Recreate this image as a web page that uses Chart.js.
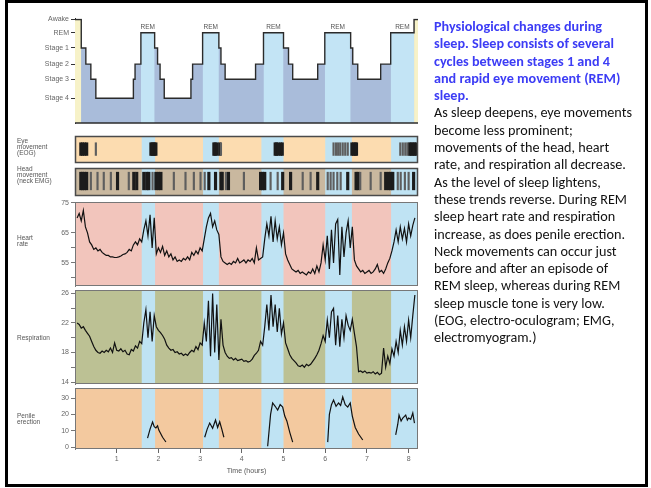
<!DOCTYPE html>
<html>
<head>
<meta charset="utf-8">
<script src="https://cdn.jsdelivr.net/npm/chart.js@4.4.1/dist/chart.umd.min.js"></script>
<style>
body { margin: 0; background: #fff; width: 651px; height: 488px; overflow: hidden; position: relative; font-family: "Liberation Sans", Arial, sans-serif; }
canvas { position: absolute; left: 0; top: 0; }
.frame { position: absolute; left: 5px; top: 0; width: 637px; height: 481px; border: 3px solid #000; }
.lab { position: absolute; left: 17px; font-size: 6.5px; line-height: 6px; color: #555; white-space: nowrap; }
#caption { position: absolute; left: 434px; top: 18px; font-family: Carlito, Lato, sans-serif; font-size: 14.2px; line-height: 17.3px; white-space: nowrap; color: #111; }
#caption .t { color: #3c3cf5; font-weight: bold; }
</style>
</head>
<body>
<div class="frame"></div>
<canvas id="c1" width="651" height="488"></canvas>
<canvas id="c2" width="651" height="488"></canvas>
<canvas id="c3" width="651" height="488"></canvas>
<canvas id="c4" width="651" height="488"></canvas>
<canvas id="c5" width="651" height="488"></canvas>
<canvas id="c6" width="651" height="488"></canvas>

<div class="lab" style="top:138px">Eye<br>movement<br>(EOG)</div>
<div class="lab" style="top:166px">Head<br>movement<br>(neck EMG)</div>
<div class="lab" style="top:235px">Heart<br>rate</div>
<div class="lab" style="top:335px">Respiration</div>
<div class="lab" style="top:413px">Penile<br>erection</div>

<div id="caption">
<div class="t">Physiological changes during<br>sleep. Sleep consists of several<br>cycles between stages 1 and 4<br>and rapid eye movement (REM)<br>sleep.</div>
<div>As sleep deepens, eye movements<br>become less prominent;<br>movements of the head, heart<br>rate, and respiration all decrease.<br>As the level of sleep lightens,<br>these trends reverse. During REM<br>sleep heart rate and respiration<br>increase, as does penile erection.<br>Neck movements can occur just<br>before and after an episode of<br>REM sleep, whereas during REM<br>sleep muscle tone is very low.<br>(EOG, electro-oculogram; EMG,<br>electromyogram.)</div>
</div>

<script>
// ---- data ----
var xMax = 8.225;
var xTicks = [1, 2, 3, 4, 5, 6, 7, 8];

var stageNames = ['Awake', 'REM', 'Stage 1', 'Stage 2', 'Stage 3', 'Stage 4'];
var stageLevels = [5.45, 4.75, 3.95, 3.1, 2.3, 1.3];

// each stage lasts from its time to the next time
var hypnoTimes = [0, 0.15, 0.26, 0.38, 0.5, 1.4, 1.44, 1.58, 1.91, 1.98, 2.04, 2.14, 2.78, 2.82, 3.06, 3.45, 3.5, 3.6,
    4.33, 4.52, 5.0, 5.12, 5.22, 5.82, 5.99, 6.61, 6.66, 6.78, 7.33, 7.57, 8.13, 8.225];
var hypnoStages = ['Awake', 'Stage 1', 'Stage 2', 'Stage 3', 'Stage 4', 'Stage 3', 'Stage 2', 'REM', 'Stage 1', 'Stage 2',
    'Stage 3', 'Stage 4', 'Stage 3', 'Stage 2', 'REM', 'Stage 1', 'Stage 2', 'Stage 3', 'Stage 2', 'REM', 'Stage 1',
    'Stage 2', 'Stage 3', 'Stage 2', 'REM', 'Stage 1', 'Stage 2', 'Stage 3', 'Stage 2', 'REM', 'Awake', 'Awake'];

// REM periods shaded in the lower panels (hours)
var remStart = [1.6, 3.07, 4.47, 6.0, 7.58];
var remEnd = [1.92, 3.45, 5.0, 6.64, 8.225];

// eye movements (EOG) and neck EMG bursts, hours
var eogStrong = [0.14, 0.18, 0.23, 0.28, 1.82, 1.85, 1.88, 1.91, 1.94, 3.33, 3.36, 3.40, 3.47, 4.80, 4.83, 4.87, 4.93, 4.97,
    6.64, 6.68, 6.72, 6.75, 8.02, 8.06, 8.10, 8.14, 8.18];
var eogFaint = [0.50, 3.50, 6.20, 6.26, 6.31, 6.36, 6.42, 6.48, 6.54, 7.80, 7.86, 7.92, 7.97];
var emgStrong = [0.14, 0.18, 0.23, 0.28, 1.02, 1.41, 1.48, 1.65, 1.72, 1.77, 1.94, 2.00, 2.06, 3.21, 3.37, 3.50, 3.53, 3.68,
    4.45, 4.50, 4.55, 4.98, 5.17, 5.82, 6.54, 6.74, 6.79, 7.45, 7.52, 7.57, 7.62, 8.12];
var emgFaint = [0.38, 0.54, 0.69, 0.86, 1.29, 1.86, 2.37, 2.65, 2.85, 3.01, 3.11, 3.62, 4.05, 4.69, 4.86, 5.46, 5.65, 6.06,
    6.13, 6.20, 6.29, 6.37, 6.84, 7.09, 7.33, 7.74, 7.81, 7.91, 8.00];

var sampleTimes = [
    0.05, 0.10, 0.15, 0.20, 0.25, 0.30, 0.35, 0.40, 0.45, 0.50, 0.55, 0.60, 0.65, 0.70, 0.75, 0.80, 0.85, 0.90, 0.95, 1.00,
    1.05, 1.10, 1.15, 1.20, 1.25, 1.30, 1.35, 1.40, 1.45, 1.50, 1.55, 1.60, 1.65, 1.70, 1.75, 1.80, 1.85, 1.90, 1.95, 2.00,
    2.05, 2.10, 2.15, 2.20, 2.25, 2.30, 2.35, 2.40, 2.45, 2.50, 2.55, 2.60, 2.65, 2.70, 2.75, 2.80, 2.85, 2.90, 2.95, 3.00,
    3.05, 3.10, 3.15, 3.20, 3.25, 3.30, 3.35, 3.40, 3.45, 3.50, 3.55, 3.60, 3.65, 3.70, 3.75, 3.80, 3.85, 3.90, 3.95, 4.00,
    4.05, 4.10, 4.15, 4.20, 4.25, 4.30, 4.35, 4.40, 4.45, 4.50, 4.55, 4.60, 4.65, 4.70, 4.75, 4.80, 4.85, 4.90, 4.95, 5.00,
    5.05, 5.10, 5.15, 5.20, 5.25, 5.30, 5.35, 5.40, 5.45, 5.50, 5.55, 5.60, 5.65, 5.70, 5.75, 5.80, 5.85, 5.90, 5.95, 6.00,
    6.05, 6.10, 6.15, 6.20, 6.25, 6.30, 6.35, 6.40, 6.45, 6.50, 6.55, 6.60, 6.65, 6.70, 6.75, 6.80, 6.85, 6.90, 6.95, 7.00,
    7.05, 7.10, 7.15, 7.20, 7.25, 7.30, 7.35, 7.40, 7.45, 7.50, 7.55, 7.60, 7.65, 7.70, 7.75, 7.80, 7.85, 7.90, 7.95, 8.00,
    8.05, 8.10, 8.15];

var heartRate = [
    70, 71.5, 69, 72.5, 67, 65, 62, 61, 59.5, 60, 59, 59.5, 58.5, 58, 57.5, 57.5, 57, 57, 56.8, 56.8,
    57, 57.3, 57.8, 58, 58.5, 59.5, 59, 61, 62, 61, 63, 62, 66, 69, 64, 71, 60, 70, 58, 60,
    58.5, 60.5, 57.5, 59, 57, 58, 56, 57, 55.5, 56, 55.5, 56.5, 56, 57, 56, 58.5, 57.5, 59, 58, 60,
    59, 63, 67, 70, 71.5, 67, 69, 66, 64.5, 57, 55.5, 55, 54.5, 55, 54.5, 55.5, 55, 56.5, 55, 55.5,
    56, 55, 56, 55.5, 56.5, 55, 60, 56, 56.5, 57, 63, 68, 64, 70.5, 62, 69, 63, 67, 61, 65,
    58, 56, 54.5, 53, 52.5, 52, 52.5, 51.5, 52, 51.5, 51, 52, 51.5, 53, 51.5, 54, 52, 55, 61, 56,
    64, 53, 66, 55, 68, 69.5, 51, 67, 57, 65, 69, 60, 67, 56, 54, 53, 52, 52.5, 51.5, 52,
    52.5, 51.5, 52, 53, 54.5, 52, 52.5, 51.5, 53, 55, 56.5, 59, 62, 66, 62, 67, 63, 66.5, 62, 68,
    64, 67.5, 70];
var hrTicks = [50, 55, 60, 65, 75];
var hrLabels = [55, 65, 75];

var respiration = [
    22, 21.8, 21.3, 21.5, 21, 20.6, 20.2, 19.5, 18.8, 18.3, 18, 17.9, 18.2, 18, 18.3, 18.1, 18.6, 18, 19.3, 18.3,
    18.2, 18.5, 18.1, 18.3, 17.8, 17.7, 18.4, 18.2, 18.9, 18.6, 19.5, 19.2, 22, 23.8, 20, 23.5, 19.5, 23, 21.5, 21,
    20.7, 20.3, 19.8, 19, 18.6, 18.3, 18.4, 18, 18.1, 17.8, 17.9, 17.6, 17.8, 17.6, 18, 18.3, 18.1, 18.8, 18.4, 19.3,
    19, 22, 19.5, 25, 17.5, 26, 18, 24.5, 17, 22.5, 19, 18, 17.5, 17.2, 17.3, 17, 17.2, 16.9, 17, 17.1,
    16.8, 16.9, 16.7, 16.8, 17.1, 17.6, 17.9, 18.3, 19.5, 19, 21.5, 24.5, 21, 25.8, 21.5, 24.5, 20.8, 24, 20.5, 22,
    19.3, 18.5, 17.7, 17.2, 16.9, 16.6, 16.2, 16.1, 16.3, 16, 16.4, 16.2, 16.4, 16.8, 17.2, 17.7, 18.3, 19.2, 20.3, 19.5,
    22.4, 20, 23.5, 24, 19, 23, 18.8, 22.5, 20, 23, 21.7, 21, 22.5, 20.6, 18.8, 15.4, 15.5, 15.3, 15.5, 15.2,
    15.3, 15.2, 15.4, 15.1, 15.3, 15, 15.2, 18.6, 16, 17.5, 16.5, 18.5, 17.5, 19.5, 18, 21, 19, 21.5, 19.5, 22.4,
    20, 23, 25.8];
var respTicks = [14, 16, 18, 20, 22, 24, 26];
var respLabels = [14, 18, 22, 26];

// null values break the trace between REM episodes
var penileTimes = [1.74, 1.80, 1.86, 1.90, 1.94, 1.98, 2.01, 2.10, 2.18, 2.6,
    3.11, 3.17, 3.23, 3.30, 3.37, 3.42, 3.47, 3.52, 3.57, 4.1,
    4.62, 4.69, 4.74, 4.80, 4.86, 4.92, 4.98, 5.03, 5.08, 5.15, 5.22, 5.6,
    6.06, 6.10, 6.15, 6.20, 6.26, 6.32, 6.37, 6.42, 6.48, 6.54, 6.60, 6.65, 6.72, 6.80, 6.90, 7.3,
    7.69, 7.74, 7.77, 7.82, 7.86, 7.93, 7.97, 8.00, 8.05, 8.10, 8.14];
var penileValues = [5.5, 11, 15.3, 12.5, 11.7, 13, 10.4, 6, 3.1, null,
    6, 11, 14.7, 11.5, 16.6, 12, 15.5, 11, 6, null,
    0.5, 20, 27, 25, 22.7, 26, 24.5, 19, 16, 9, 3, null,
    3, 20, 26, 28.8, 25, 27, 25.5, 30.7, 26, 24.5, 27, 19, 12, 8, 4.3, null,
    7.4, 14, 19.6, 16, 17.8, 19.6, 16.5, 17.8, 17, 20.9, 14.7];
var penileTicks = [0, 10, 20, 30];

// ---- helpers ----
var W = 651, H = 488, plotLeft = 75, plotRight = 418;
var tickFont = { family: 'Liberation Sans', size: 7 };
var remBlue = '#bfe3f3';

function levelOf(name) { return stageLevels[stageNames.indexOf(name)]; }
function pts(xs, ys) { return xs.map(function (t, i) { return { x: t, y: ys[i] }; }); }
function stageFill(stage) {
    var out = [];
    for (var i = 0; i < hypnoTimes.length - 1; i++) {
        if (hypnoStages[i] === stage) {
            out.push({ x: hypnoTimes[i], y: levelOf(stage) }, { x: hypnoTimes[i + 1], y: levelOf(stage) }, { x: hypnoTimes[i + 1], y: null });
        }
    }
    return out;
}
function marks(times, lo, hi) { return times.map(function (t) { return { x: t, y: [lo, hi] }; }); }

var panelPlugin = {
    id: 'panel',
    beforeDatasetsDraw: function (chart, args, o) {
        if (!o.bg) return;
        var ctx = chart.ctx, a = chart.chartArea, x = chart.scales.x;
        ctx.save();
        ctx.fillStyle = o.bg;
        ctx.fillRect(a.left, a.top, a.width, a.height);
        ctx.fillStyle = remBlue;
        for (var i = 0; i < remStart.length; i++) {
            var x1 = Math.max(a.left, x.getPixelForValue(remStart[i]));
            var x2 = Math.min(a.right, x.getPixelForValue(remEnd[i]));
            ctx.fillRect(x1, a.top, x2 - x1, a.height);
        }
        ctx.restore();
    },
    afterDatasetsDraw: function (chart, args, o) {
        var ctx = chart.ctx, a = chart.chartArea;
        ctx.save();
        if (o.frame) {
            ctx.strokeStyle = o.frame;
            ctx.lineWidth = o.frameWidth || 1;
            ctx.strokeRect(a.left + 0.5, a.top + 0.5, a.width - 1, a.height - 1);
        }
        if (o.baseline) {
            ctx.strokeStyle = o.baseline;
            ctx.lineWidth = 1.5;
            ctx.beginPath();
            ctx.moveTo(a.left, a.bottom);
            ctx.lineTo(a.right, a.bottom);
            ctx.stroke();
        }
        if (o.remLabels) {
            var x = chart.scales.x, y = chart.scales.y;
            ctx.fillStyle = '#555';
            ctx.font = '6.5px "Liberation Sans"';
            ctx.textAlign = 'center';
            ctx.textBaseline = 'bottom';
            for (var i = 0; i < hypnoTimes.length - 1; i++) {
                if (hypnoStages[i] === 'REM') {
                    var cx = x.getPixelForValue((hypnoTimes[i] + hypnoTimes[i + 1]) / 2);
                    ctx.fillText('REM', cx, y.getPixelForValue(levelOf('REM')) - 2);
                }
            }
        }
        ctx.restore();
    }
};

function yAxis(ticks, labelFn, min, max, color) {
    return {
        type: 'linear', min: min, max: max,
        afterFit: function (axis) { axis.width = plotLeft; },
        afterBuildTicks: function (axis) { axis.ticks = ticks.map(function (v) { return { value: v }; }); },
        ticks: { autoSkip: false, font: tickFont, color: '#666', padding: 2, callback: labelFn },
        grid: { drawOnChartArea: false, tickLength: 4, color: color || '#777' },
        border: { display: true, color: color || '#777' }
    };
}
function hiddenX() { return { type: 'linear', min: 0, max: xMax, display: false, offset: false }; }

function options(top, bottom, yCfg, panel, xCfg) {
    return {
        responsive: false, animation: false, events: [],
        layout: { padding: { left: yCfg.display === false ? plotLeft : 0, right: W - plotRight, top: top, bottom: H - bottom - (xCfg ? 30 : 0) } },
        plugins: { legend: { display: false }, tooltip: { enabled: false }, panel: panel },
        elements: { point: { radius: 0 }, line: { tension: 0 } },
        scales: { x: xCfg || hiddenX(), y: yCfg }
    };
}

// ---- 1: hypnogram ----
var hypnoPts = pts(hypnoTimes, hypnoTimes.map(function (t, i) { return levelOf(hypnoStages[i]); }));
new Chart(document.getElementById('c1'), {
    type: 'line',
    data: {
        datasets: [
            { data: hypnoPts, stepped: 'before', borderColor: '#2b2b2b', borderWidth: 1.4, fill: false, order: 0 },
            { data: stageFill('REM'), borderColor: 'rgba(0,0,0,0)', fill: 'origin', backgroundColor: '#c3e4f5', order: 1 },
            { data: stageFill('Awake'), borderColor: 'rgba(0,0,0,0)', fill: 'origin', backgroundColor: '#f7f2c8', order: 1 },
            { data: hypnoPts, stepped: 'before', borderColor: 'rgba(0,0,0,0)', fill: 'origin', backgroundColor: '#a9bcda', order: 2 }
        ]
    },
    options: options(18.5, 123, yAxis(stageLevels, function (v) { return stageNames[stageLevels.indexOf(v)]; }, 0, 5.5, '#333'),
        { baseline: '#2b2b2b', remLabels: true }),
    plugins: [panelPlugin]
});

// ---- 2: EOG, 3: EMG ----
function markChart(id, top, bottom, strong, faint, lo, hi, bg) {
    new Chart(document.getElementById(id), {
        type: 'bar',
        data: {
            datasets: [
                { data: marks(faint, lo, hi), backgroundColor: '#5e5e5e', barThickness: 1.5, grouped: false },
                { data: marks(strong, lo, hi), backgroundColor: '#1c1c1c', barThickness: 2.5, grouped: false }
            ]
        },
        options: options(top, bottom, { type: 'linear', min: 0, max: 1, display: false },
            { bg: bg, frame: '#4a4a4a', frameWidth: 1.5 }),
        plugins: [panelPlugin]
    });
}
markChart('c2', 136, 163, eogStrong, eogFaint, 0.28, 0.75, '#fcdcb0');
markChart('c3', 168, 196, emgStrong, emgFaint, 0.22, 0.85, '#c9b89f');

// ---- 4: heart rate ----
function traceChart(id, top, bottom, xs, ys, yCfg, bg, xCfg) {
    new Chart(document.getElementById(id), {
        type: 'line',
        data: { datasets: [{ data: pts(xs, ys), borderColor: '#111', borderWidth: 1.2, fill: false, spanGaps: false }] },
        options: options(top, bottom, yCfg, { bg: bg, frame: '#777' }, xCfg),
        plugins: [panelPlugin]
    });
}
traceChart('c4', 202, 286, sampleTimes, heartRate,
    yAxis(hrTicks, function (v) { return hrLabels.indexOf(v) >= 0 ? String(v) : ''; }, 47.3, 75.3), '#f2c5bc');

// ---- 5: respiration ----
traceChart('c5', 290, 384, sampleTimes, respiration,
    yAxis(respTicks, function (v) { return respLabels.indexOf(v) >= 0 ? String(v) : ''; }, 13.73, 26.47), '#bcc194');

// ---- 6: penile erection + time axis ----
traceChart('c6', 388, 449, penileTimes, penileValues,
    yAxis(penileTicks, function (v) { return String(v); }, -1.2, 36.2), '#f3c99f',
    {
        type: 'linear', min: 0, max: xMax, position: 'bottom', offset: false,
        afterBuildTicks: function (axis) { axis.ticks = xTicks.map(function (v) { return { value: v }; }); },
        afterFit: function (axis) { axis.height = 30; },
        ticks: { autoSkip: false, maxRotation: 0, font: tickFont, color: '#666', padding: 2 },
        grid: { drawOnChartArea: false, tickLength: 4, color: '#666' },
        border: { display: false },
        title: { display: true, text: 'Time (hours)', font: tickFont, color: '#555', padding: { top: 2, bottom: 4 } }
    });
</script>
</body>
</html>
